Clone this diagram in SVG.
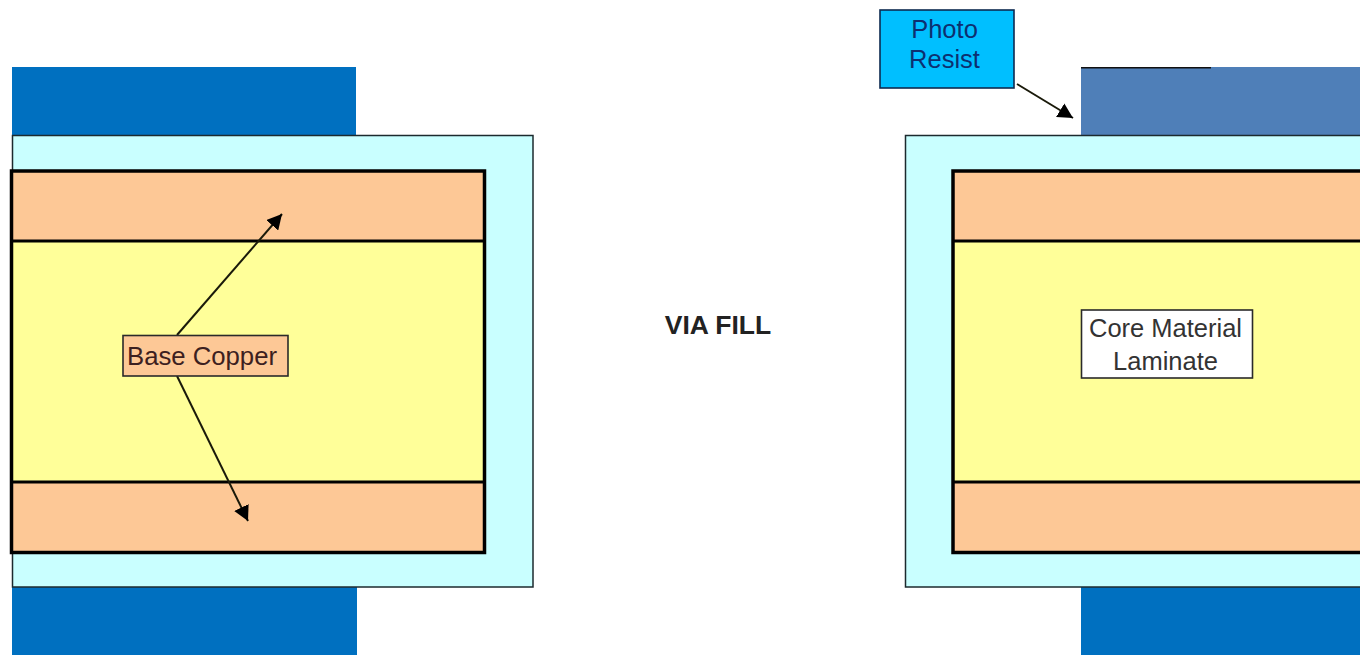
<svg xmlns="http://www.w3.org/2000/svg" width="1360" height="655" viewBox="0 0 1360 655">
<style>
text{font-family:"Liberation Sans",Arial,sans-serif;font-size:25.500px;text-anchor:middle}
.resist{fill:#0070c0}
.mask{fill:#c9ffff;stroke:#1c2a2e;stroke-width:1.5}
.copper{fill:#fdc896}
.core{fill:#ffff99}
.frame{fill:none;stroke:#000;stroke-width:3.5}
.rule{stroke:#000;stroke-width:3;fill:none}
.conn{stroke:#1a1a0a;stroke-width:2;fill:none;marker-end:url(#arrow)}
.box{stroke:#2a2a2a;stroke-width:1.6}
</style>
<defs>
<marker id="arrow" markerUnits="userSpaceOnUse" markerWidth="16" markerHeight="16" refX="15" refY="8" orient="auto">
<path d="M0 0L15 8L0 16Z" fill="#000"/>
</marker>
</defs>
<rect width="1360" height="655" fill="#fff"/>
<g id="left-stack">
<rect class="resist" x="12" y="67" width="344" height="68"/>
<rect class="resist" x="12" y="587" width="345" height="68"/>
<rect class="mask" x="12.500" y="135.500" width="520.500" height="451.500"/>
<rect class="copper" x="12" y="171" width="472" height="70"/>
<rect class="core" x="12" y="241" width="472" height="241"/>
<rect class="copper" x="12" y="482" width="472" height="70"/>
<path class="rule" d="M12 241H484M12 482H484"/>
<rect class="frame" x="11.500" y="171" width="473" height="381.500"/>
</g>
<g id="right-stack">
<rect x="1081" y="67" width="279" height="68" fill="#4f7fb8"/>
<path d="M1081 67.800H1211" stroke="#111" stroke-width="1.500"/>
<rect class="resist" x="1081" y="587" width="279" height="68"/>
<rect class="mask" x="905.500" y="135.500" width="470" height="451.500"/>
<rect class="copper" x="953" y="171" width="420" height="70"/>
<rect class="core" x="953" y="241" width="420" height="241"/>
<rect class="copper" x="953" y="482" width="420" height="70"/>
<path class="rule" d="M953 241H1373M953 482H1373"/>
<rect class="frame" x="953" y="171" width="420" height="381.500"/>
</g>
<g id="connectors">
<path class="conn" d="M177 335L282 214"/>
<path class="conn" d="M177 376L248 521"/>
<path class="conn" d="M1017 84L1073 118"/>
</g>
<g id="base-copper">
<rect class="box" x="123" y="335.500" width="165" height="40.500" fill="#fdc896"/>
<text x="202" y="365" fill="#3c2020" textLength="150" lengthAdjust="spacingAndGlyphs">Base Copper</text>
</g>
<g id="photo-resist">
<rect x="880" y="10" width="134" height="78" fill="#00bfff" stroke="#0d2a50" stroke-width="1.600"/>
<text x="944.500" y="38" fill="#0d2f70">Photo</text>
<text x="944.500" y="68" fill="#0d2f70">Resist</text>
</g>
<g id="core-material">
<rect x="1081.500" y="310" width="171" height="68" fill="#fff" stroke="#2a2a2a" stroke-width="1.600"/>
<text x="1165.500" y="336.500" fill="#333">Core Material</text>
<text x="1165.500" y="370" fill="#333">Laminate</text>
</g>
<g id="title">
<text x="718" y="334" font-weight="bold" fill="#222" style="font-size:26.500px">VIA FILL</text>
</g>
</svg>
